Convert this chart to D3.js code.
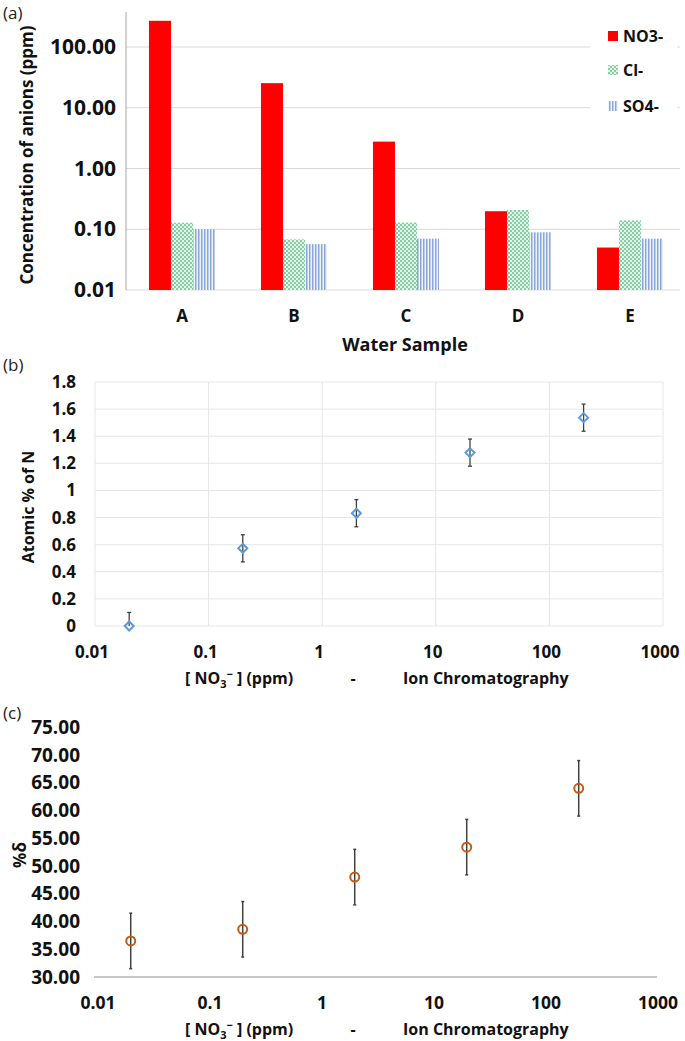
<!DOCTYPE html>
<html><head><meta charset="utf-8">
<script src="https://cdn.jsdelivr.net/npm/d3@7"></script>
<style>
body{margin:0;background:#fff;}
svg text{font-family:"Open Sans",sans-serif;}
</style></head>
<body><svg id="c" width="685" height="1041"></svg>
<script>
// ---- data ----
const categories = ["A","B","C","D","E"];
const seriesNames = ["NO3-","Cl-","SO4-"];
const no3 = [270, 25.4, 2.77, 0.198, 0.050];
const cl  = [0.128, 0.068, 0.129, 0.208, 0.140];
const so4 = [0.101, 0.057, 0.070, 0.089, 0.070];
const anionTicks = [0.01, 0.1, 1, 10, 100];
const anionTickLabels = ["0.01","0.10","1.00","10.00","100.00"];

const nitrateConc = [0.02, 0.2, 2, 20, 200];
const atomicN = [0.0, 0.573, 0.832, 1.279, 1.537];
const atomicErr = [0.1, 0.1, 0.1, 0.1, 0.1];
const atomicTicks = [0,0.2,0.4,0.6,0.8,1,1.2,1.4,1.6,1.8];

const deltaPct = [36.5, 38.6, 48.0, 53.4, 64.0];
const deltaErr = [5, 5, 5, 5, 5];
const deltaTicks = [30,35,40,45,50,55,60,65,70,75];
const logTicks = [0.01, 0.1, 1, 10, 100, 1000];
const logTickLabels = ["0.01","0.1","1","10","100","1000"];

const svg = d3.select("#c");
const defs = svg.append("defs");
// patterns
const pCl = defs.append("pattern").attr("id","pCl").attr("width",4).attr("height",4).attr("patternUnits","userSpaceOnUse");
pCl.append("rect").attr("width",4).attr("height",4).attr("fill","#e3f5ea");
pCl.append("rect").attr("width",2).attr("height",2).attr("fill","#86cfa2");
pCl.append("rect").attr("x",2).attr("y",2).attr("width",2).attr("height",2).attr("fill","#86cfa2");
const pSO = defs.append("pattern").attr("id","pSO").attr("width",3).attr("height",4).attr("patternUnits","userSpaceOnUse");
pSO.append("rect").attr("width",3).attr("height",4).attr("fill","#eef2fb");
pSO.append("rect").attr("width",1.5).attr("height",4).attr("fill","#8aa6dc");
const fills = {"NO3-":"#ff0000","Cl-":"url(#pCl)","SO4-":"url(#pSO)"};

function boldText(g, x, y, txt, size, anchor){
  return g.append("text").attr("x",x).attr("y",y).attr("font-size",size)
    .attr("font-weight","bold").attr("text-anchor",anchor||"middle").attr("fill","#111").text(txt);
}
function nitrateTitle(g, y){
  const t = g.append("text").attr("x",185).attr("y",y).attr("font-size",16).attr("font-weight","bold").attr("fill","#111");
  t.append("tspan").text("[ NO");
  t.append("tspan").attr("font-size",11).attr("dy",4).text("3");
  t.append("tspan").attr("font-size",11).attr("dy",-10).text("\u2212");
  t.append("tspan").attr("dy",6).text(" ] (ppm)");
  boldText(g, 353, y, "-", 16, "middle");
  boldText(g, 403, y, "Ion Chromatography", 16, "start");
}

// ================= (a) =================
{
  const g = svg.append("g");
  const y = d3.scaleLog().domain([0.01,100]).range([290,47]);
  const x = d3.scaleBand().domain(categories).range([126,686]).paddingInner(0.41).paddingOuter(0.205);
  const xs = d3.scaleBand().domain(seriesNames).range([0,x.bandwidth()]);
  // gridlines
  g.append("g").selectAll("line").data(anionTicks).join("line")
    .attr("x1",126).attr("x2",680).attr("y1",d=>y(d)).attr("y2",d=>y(d))
    .attr("stroke","#d9d9d9").attr("stroke-width",1);
  g.append("line").attr("x1",126).attr("x2",126).attr("y1",12).attr("y2",290).attr("stroke","#a6a6a6");
  // y tick labels
  g.append("g").selectAll("text").data(anionTicks).join("text")
    .attr("x",116).attr("y",d=>y(d)+7).attr("text-anchor","end").attr("font-size",21).attr("font-weight","bold").attr("fill","#111")
    .text((d,i)=>anionTickLabels[i]);
  // bars
  const vals = {"NO3-":no3,"Cl-":cl,"SO4-":so4};
  seriesNames.forEach(s=>{
    g.append("g").selectAll("rect").data(categories).join("rect")
      .attr("x",d=>x(d)+xs(s)).attr("width",xs.bandwidth())
      .attr("y",(d,i)=>y(vals[s][i])).attr("height",(d,i)=>290-y(vals[s][i]))
      .attr("fill",fills[s]);
  });
  // x labels
  g.append("g").selectAll("text").data(categories).join("text")
    .attr("x",d=>x(d)+x.bandwidth()/2).attr("y",322).attr("text-anchor","middle")
    .attr("font-size",17).attr("font-weight","bold").attr("fill","#111").text(d=>d);
  boldText(g, 405, 351, "Water Sample", 18);
  // y title
  g.append("text").attr("transform","translate(33,155) rotate(-90)").attr("text-anchor","middle")
    .attr("font-size",17).attr("font-weight","bold").attr("fill","#111").text("Concentration of anions (ppm)");
  // legend
  g.append("rect").attr("x",590).attr("y",20).attr("width",87).attr("height",96).attr("fill","#fff");
  const ly = [36,70,106];
  seriesNames.forEach((s,i)=>{
    g.append("rect").attr("x",608).attr("y",ly[i]-5).attr("width",10).attr("height",10).attr("fill",fills[s]);
    g.append("text").attr("x",623).attr("y",ly[i]+6).attr("font-size",16).attr("font-weight","bold").attr("fill","#111").text(s);
  });
  g.append("text").attr("x",3).attr("y",19).attr("font-size",17).attr("fill","#222").text("(a)");
}

// ================= (b) =================
{
  const g = svg.append("g");
  const x = d3.scaleLog().domain([0.01,1000]).range([95,663]);
  const y = d3.scaleLinear().domain([0,1.8]).range([626,382]);
  g.append("g").selectAll("line").data(atomicTicks).join("line")
    .attr("x1",95).attr("x2",663).attr("y1",d=>y(d)).attr("y2",d=>y(d)).attr("stroke","#e6e6e6");
  g.append("g").selectAll("line").data(logTicks).join("line")
    .attr("x1",d=>x(d)).attr("x2",d=>x(d)).attr("y1",382).attr("y2",626).attr("stroke","#e6e6e6");
  g.append("g").selectAll("text").data(atomicTicks).join("text")
    .attr("x",76).attr("y",d=>y(d)+6).attr("text-anchor","end").attr("font-size",17).attr("font-weight","bold").attr("fill","#111")
    .text(d=>d3.format("")(+d.toFixed(1)));
  g.append("g").selectAll("text").data(logTicks).join("text")
    .attr("x",(d)=>x(d)-3).attr("y",658).attr("text-anchor","middle").attr("font-size",17).attr("font-weight","bold").attr("fill","#111")
    .text((d,i)=>logTickLabels[i]);
  // error bars
  const eb = g.append("g").attr("stroke","#404040").attr("stroke-width",1.3);
  nitrateConc.forEach((c,i)=>{
    const cx = x(c), y1 = y(atomicN[i]+atomicErr[i]), y0 = y(Math.max(atomicN[i]-atomicErr[i], 0));
    eb.append("line").attr("x1",cx).attr("x2",cx).attr("y1",y1).attr("y2",y0);
    eb.append("line").attr("x1",cx-2).attr("x2",cx+2).attr("y1",y1).attr("y2",y1);
    if (atomicN[i]-atomicErr[i] > 0) eb.append("line").attr("x1",cx-2).attr("x2",cx+2).attr("y1",y0).attr("y2",y0);
  });
  g.append("g").selectAll("path").data(nitrateConc).join("path")
    .attr("transform",(d,i)=>`translate(${x(d)},${y(atomicN[i])})`)
    .attr("d","M0,-4.5L4.5,0L0,4.5L-4.5,0Z").attr("fill","none").attr("stroke","#5b9bd5").attr("stroke-width",2);
  g.append("text").attr("transform","translate(34,507) rotate(-90)").attr("text-anchor","middle")
    .attr("font-size",16).attr("font-weight","bold").attr("fill","#111").text("Atomic % of N");
  nitrateTitle(g, 684);
  g.append("text").attr("x",3).attr("y",371).attr("font-size",17).attr("fill","#222").text("(b)");
}

// ================= (c) =================
{
  const g = svg.append("g");
  const x = d3.scaleLog().domain([0.01,1000]).range([97,657]);
  const y = d3.scaleLinear().domain([30,75]).range([977,727.3]);
  g.append("line").attr("x1",94).attr("x2",657).attr("y1",977).attr("y2",977).attr("stroke","#8c8c8c").attr("stroke-width",1);
  g.append("g").selectAll("text").data(deltaTicks).join("text")
    .attr("x",80).attr("y",d=>y(d)+6.5).attr("text-anchor","end").attr("font-size",19).attr("font-weight","bold").attr("fill","#111")
    .text(d=>d.toFixed(2));
  g.append("g").selectAll("text").data(logTicks).join("text")
    .attr("x",d=>x(d)+1).attr("y",1009).attr("text-anchor","middle").attr("font-size",17.5).attr("font-weight","bold").attr("fill","#111")
    .text((d,i)=>logTickLabels[i]);
  const eb = g.append("g").attr("stroke","#404040").attr("stroke-width",1.5);
  nitrateConc.forEach((c,i)=>{
    const cx = x(c), y1 = y(deltaPct[i]+deltaErr[i]), y0 = y(deltaPct[i]-deltaErr[i]);
    eb.append("line").attr("x1",cx).attr("x2",cx).attr("y1",y1).attr("y2",y0);
    eb.append("line").attr("x1",cx-1.5).attr("x2",cx+1.5).attr("y1",y1).attr("y2",y1);
    eb.append("line").attr("x1",cx-1.5).attr("x2",cx+1.5).attr("y1",y0).attr("y2",y0);
  });
  g.append("g").selectAll("circle").data(nitrateConc).join("circle")
    .attr("cx",d=>x(d)).attr("cy",(d,i)=>y(deltaPct[i])).attr("r",4.5)
    .attr("fill","none").attr("stroke","#c55a11").attr("stroke-width",2);
  g.append("text").attr("transform","translate(26,855) rotate(-90)").attr("text-anchor","middle")
    .attr("font-size",17).attr("font-weight","bold").attr("fill","#111").text("%δ");
  nitrateTitle(g, 1035);
  g.append("text").attr("x",3).attr("y",719).attr("font-size",17).attr("fill","#222").text("(c)");
}
</script></body></html>
